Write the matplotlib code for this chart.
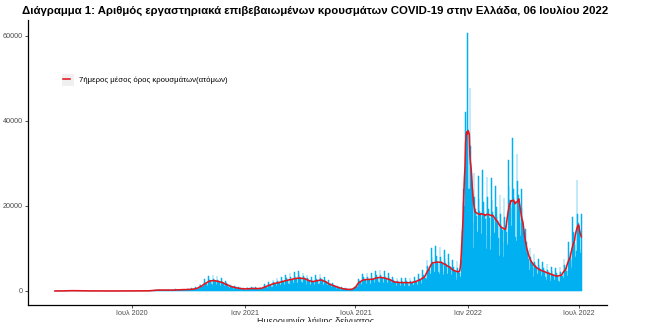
import matplotlib
matplotlib.use("Agg")
import matplotlib.pyplot as plt
from matplotlib.patches import Rectangle
import pandas as pd

plt.rcParams["font.family"] = ["Liberation Sans", "DejaVu Sans"]

# daily lab-confirmed cases by sample date, one line per Mon-Sun week
start_date = "2020-02-26"

cases_2020 = [
    1, 2, 0, 0, 0,
    0, 3, 2, 22, 14, 1, 21,
    11, 16, 10, 19, 31, 38, 38,
    52, 56, 31, 46, 31, 35, 94,
    71, 71, 78, 52, 71, 95, 102,
    61, 79, 97, 56, 53, 60, 62,
    20, 56, 62, 25, 19, 27, 24,
    44, 33, 17, 14, 7, 3, 41,
    16, 25, 5, 12, 56, 17, 15,
    8, 11, 7, 15, 10, 6, 11,
    13, 2, 12, 19, 3, 6, 10,
    6, 11, 13, 0, 13, 3, 2,
    9, 4, 10, 4, 3, 3, 15,
    2, 3, 2, 13, 7, 2, 3,
    1, 4, 3, 5, 6, 6, 2,
    11, 20, 2, 17, 4, 5, 5,
    6, 19, 14, 9, 7, 28, 8,
    4, 10, 5, 23, 7, 18, 5,
    17, 1, 9, 24, 17, 13, 8,
    27, 15, 9, 25, 33, 27, 16,
    34, 21, 22, 28, 23, 25, 12,
    35, 22, 41, 32, 25, 27, 17,
    36, 57, 43, 33, 37, 110, 45,
    82, 121, 80, 98, 124, 203, 126,
    152, 262, 187, 254, 217, 230, 169,
    269, 228, 221, 217, 191, 284, 154,
    178, 268, 293, 226, 165, 247, 200,
    148, 146, 228, 170, 244, 193, 144,
    171, 249, 232, 372, 246, 233, 195,
    222, 341, 276, 293, 348, 305, 221,
    190, 453, 313, 339, 349, 297, 218,
    241, 458, 419, 404, 341, 349, 230,
    250, 620, 470, 430, 390, 380, 260,
    380, 930, 700, 640, 590, 560, 400,
    690, 1720, 1300, 1180, 1090, 1040, 700,
    1080, 2750, 2200, 1900, 1810, 1700, 1160,
    1420, 3560, 2850, 2480, 2330, 2200, 1610,
    1500, 3800, 2900, 2600, 2400, 2350, 1600,
    1390, 3420, 2700, 2380, 2210, 2120, 1530,
    1200, 3000, 2350, 2050, 1930, 1830, 1290,
    920, 2300, 1800, 1580, 1490, 1420, 990,
    640, 1620, 1270, 1100, 1040, 990, 690,
    490, 1240, 960, 840, 790, 760, 520,
    370, 930, 720, 630, 590, 560, 400,
    310, 780, 600, 520,
]

cases_2021 = [
    490, 300, 330,
    340, 850, 660, 580, 540, 520, 360,
    370, 940, 720, 630, 590, 570, 380,
    330, 860, 660, 580, 540, 520, 360,
    380, 920, 730, 640, 580, 560, 390,
    590, 1560, 1200, 1060, 990, 940, 660,
    850, 2150, 1690, 1480, 1380, 1330, 920,
    1050, 2700, 2100, 1850, 1740, 1660, 1150,
    1170, 3000, 2350, 2060, 1930, 1860, 1280,
    1320, 3400, 2650, 2310, 2180, 2090, 1450,
    1500, 3850, 3000, 2630, 2480, 2380, 1660,
    1620, 4200, 3240, 2840, 2680, 2560, 1760,
    1780, 4550, 3550, 3100, 2920, 2800, 1950,
    1830, 4700, 3660, 3200, 3030, 2900, 2030,
    1770, 4300, 3550, 3110, 2950, 2810, 2160,
    1500, 3870, 3000, 2630, 2480, 2370, 1650,
    1320, 3400, 2640, 2310, 2180, 2090, 1460,
    1440, 3720, 2880, 2520, 2380, 2280, 1580,
    1560, 4020, 3120, 2730, 2580, 2470, 1720,
    1320, 3400, 2640, 2310, 2180, 2090, 1460,
    960, 2480, 1920, 1680, 1590, 1520, 1050,
    720, 1860, 1440, 1260, 1190, 1140, 790,
    510, 1320, 1020, 890, 840, 810, 560,
    330, 850, 660, 580, 540, 520, 370,
    230, 590, 460, 400, 380, 360, 240,
    210, 540, 420, 370, 350, 330, 230,
    380, 1050, 900, 950, 1050, 1100, 870,
    1300, 2900, 2500, 2300, 2200, 2150, 1350,
    1600, 4000, 3200, 2800, 2620, 2500, 1830,
    1620, 4180, 3240, 2830, 2670, 2560, 1800,
    1650, 4250, 3300, 2890, 2720, 2610, 1830,
    1860, 4800, 3720, 3250, 3070, 2940, 2060,
    1920, 4950, 3840, 3360, 3170, 3040, 2120,
    1800, 4650, 3600, 3150, 2970, 2850, 1980,
    1620, 4180, 3240, 2830, 2670, 2560, 1800,
    1290, 3330, 2580, 2260, 2130, 2040, 1420,
    1200, 3100, 2400, 2100, 1980, 1900, 1320,
    1170, 3020, 2340, 2050, 1930, 1850, 1290,
    1180, 3000, 2350, 2040, 1940, 1850, 1290,
    1170, 3020, 2340, 2050, 1930, 1850, 1290,
    1320, 3400, 2640, 2310, 2180, 2090, 1460,
    1560, 4020, 3120, 2730, 2580, 2470, 1720,
    1920, 4950, 3840, 3360, 3170, 3040, 2120,
    2900, 7200, 5800, 5200, 5000, 4900, 3300,
    3960, 10200, 7920, 6930, 6530, 6270, 4390,
    4080, 10500, 8160, 7140, 6730, 6460, 4530,
    4050, 10400, 8100, 7090, 6680, 6410, 4520,
    3720, 9600, 7440, 6510, 6140, 5890, 4100,
    3360, 8650, 6720, 5880, 5540, 5320, 3730,
    2880, 7400, 5760, 5040, 4750, 4560, 3210,
    2700, 6950, 5400, 4730, 4460, 4280, 2980,
    3200, 7400, 9500, 14000, 21000, 24000, 20000,
    27700, 42100, 36700, 33000, 60700,
]

cases_2022 = [
    38000, 24000,
    24000, 47800, 34000, 30000, 26000, 24000, 16000,
    10200, 27700, 22200, 19400, 18500, 17600, 13900,
    9900, 27000, 21600, 18900, 18000, 17100, 13500,
    10000, 28500, 21000, 18500, 17800, 17000, 13200,
    9800, 26800, 22000, 19200, 18000, 17200, 13000,
    9700, 26500, 21400, 18700, 17800, 16900, 13600,
    9000, 24800, 19800, 17300, 16500, 15700, 12400,
    8200, 22500, 18000, 15800, 15000, 14300, 11200,
    7900, 21800, 17400, 15200, 14500, 13800, 10900,
    11200, 30800, 24600, 21500, 20500, 19500, 15400,
    11500, 36000, 24000, 21800, 21000, 19900, 12800,
    11800, 32300, 25800, 22600, 21500, 20400, 16100,
    13000, 24000, 19500, 16500, 15500, 14000, 13000,
    8000, 14500, 11500, 10000, 9500, 9000, 7500,
    5000, 10000, 8000, 7200, 6800, 6500, 5500,
    3400, 8600, 6800, 6000, 5700, 5400, 4000,
    3000, 7500, 6000, 5300, 5000, 4700, 3500,
    2800, 6900, 5500, 4800, 4600, 4400, 3200,
    2500, 6300, 5000, 4400, 4200, 4000, 3000,
    2300, 5700, 4600, 4000, 3800, 3600, 2600,
    2100, 5300, 4200, 3700, 3500, 3300, 2400,
    2200, 5600, 4400, 3900, 3700, 3500, 2600,
    3000, 7500, 6000, 5300, 5000, 4700, 3500,
    4600, 11600, 9200, 8100, 7700, 7300, 5400,
    6900, 17300, 13800, 12100, 11500, 10900, 8000,
    9300, 26100, 18000, 16000, 15000, 14300, 9800,
    9000, 18000,
]

tick_dates = ["2020-07-01", "2021-01-01", "2021-07-01", "2022-01-01", "2022-07-01"]
tick_labels = ["Ιουλ 2020", "Ιαν 2021", "Ιουλ 2021", "Ιαν 2022", "Ιουλ 2022"]
y_ticks = [0, 20000, 40000, 60000]

title = ("Διάγραμμα 1: Αριθμός εργαστηριακά επιβεβαιωμένων κρουσμάτων "
         "COVID-19 στην Ελλάδα, 06 Ιουλίου 2022")
legend_label = "7ήμερος μέσος όρος κρουσμάτων(ατόμων)"
x_title = "Ημερομηνία λήψης δείγματος"

values = cases_2020 + cases_2021 + cases_2022
cases = pd.Series(values, index=pd.date_range(start_date, periods=len(values), freq="D"))
avg7 = cases.rolling(7, center=True, min_periods=1).mean()

W, H = 662, 322
fig = plt.figure(figsize=(W / 100, H / 100), dpi=100)
ax = fig.add_axes([28 / W, 1 - 304.5 / H, (607 - 28) / W, (304.5 - 20) / H])
ax.patch.set_facecolor("none")

bar_color = "#00b0f0"
ax.bar(cases.index, cases.values, width=1.0, color=bar_color,
       edgecolor=bar_color, linewidth=0.35, zorder=2)
line, = ax.plot(avg7.index, avg7.values, color="#e3161e", linewidth=1.15, zorder=3)

ax.set_xlim(pd.Timestamp("2020-01-13"), pd.Timestamp("2022-08-16"))
ax.set_ylim(-3180, 63760)
ax.set_xticks(pd.to_datetime(tick_dates))
ax.set_xticklabels(tick_labels)
ax.set_yticks(y_ticks)
ax.set_yticklabels([str(v) for v in y_ticks])

for side in ("top", "right"):
    ax.spines[side].set_visible(False)
for side in ("left", "bottom"):
    ax.spines[side].set_linewidth(0.9)
    ax.spines[side].set_color("black")
ax.tick_params(length=2.5, width=0.6, color="#333333", labelsize=5.2,
               labelcolor="#4d4d4d", pad=1.2)

fig.text(22 / W, 1 - 14 / H, title, fontsize=8.2, fontweight="bold", va="baseline")
# axis title sits at the lower edge, partly below the canvas
fig.text(316 / W, -2.0 / H, x_title, fontsize=6.5, ha="center", va="baseline",
         color="#222222")

# grey key box behind the legend line
ax.add_artist(Rectangle((62 / W, 1 - 86 / H), 12 / W, 12 / H, transform=fig.transFigure,
                        facecolor="#f0f0f0", edgecolor="none", zorder=4))
ax.legend([line], [legend_label], loc="center left", bbox_to_anchor=(62.5 / W, 1 - 80 / H),
          bbox_transform=fig.transFigure, frameon=False, fontsize=5.6,
          handlelength=1.0, handletextpad=1.1, borderpad=0, borderaxespad=0)

fig.savefig("out.png", dpi=100)
